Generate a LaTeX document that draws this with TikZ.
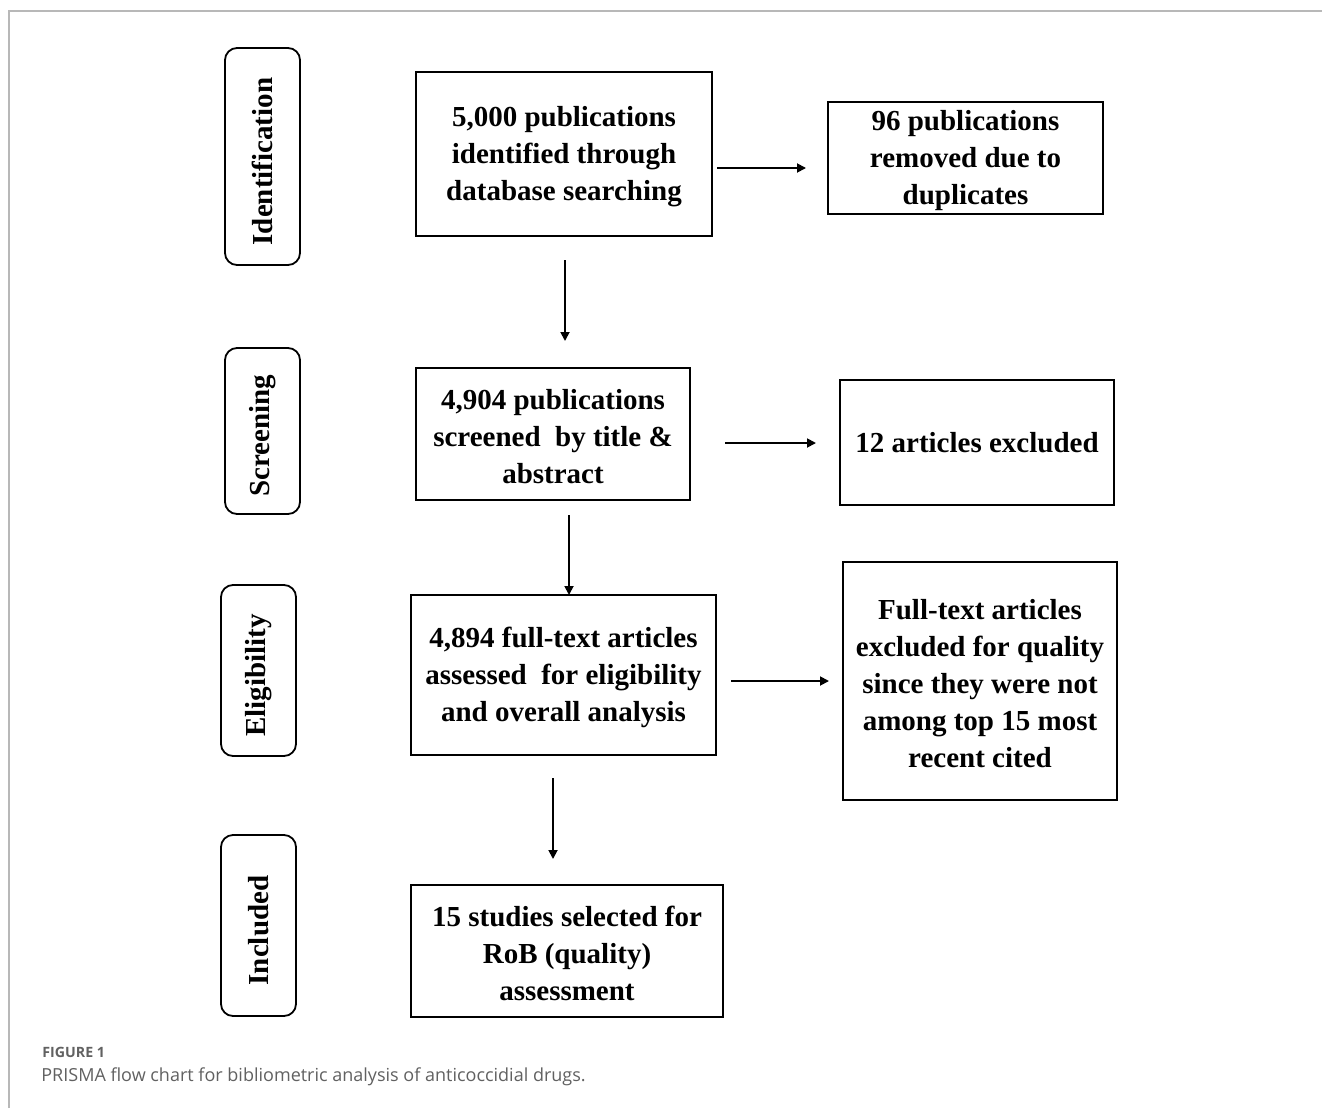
\documentclass[tikz,border=0pt]{standalone}
\usepackage{fontspec}
\setmainfont{Liberation Serif}
\newfontfamily\capfont{Open Sans}
\usetikzlibrary{arrows.meta}
\newcommand\topst{\rule{0pt}{13pt}}
\begin{document}
\begin{tikzpicture}[x=0.5pt,y=-0.5pt,
  boxtxt/.style={font=\fontsize{14.5}{18.5}\selectfont\bfseries, align=center},
  mainbox/.style={draw, line width=0.9pt, inner sep=0pt, boxtxt},
  stagebox/.style={draw, line width=0.9pt, rounded corners=6pt, inner sep=0pt},
  stagetxt/.style={boxtxt, rotate=90},
  flow/.style={line width=0.9pt, -{Triangle[length=4.5pt,width=4.5pt]}}]
\useasboundingbox (0,0) rectangle (1322,1108);
\fill[white] (0,0) rectangle (1322,1108);
% frame
\draw[line width=1pt, color=black!28] (9,1108) -- (9,11) -- (1322,11);

% stage boxes
\node[stagebox, minimum width=37.5pt, minimum height=108.5pt] (s1) at (262.5,156.5) {};
\node[stagetxt] (t1) at ([yshift=-2.5pt]s1.center) {Identification};
\node[stagebox, minimum width=37.5pt, minimum height=83pt] (s2) at (262.5,431) {};
\node[stagetxt] (t2) at ([yshift=-2.5pt]s2.center) {Screening};
\node[stagebox, minimum width=37.5pt, minimum height=85.5pt] (s3) at (258.5,670.5) {};
\node[stagetxt] (t3) at ([yshift=-2.5pt]s3.center) {Eligibility};
\node[stagebox, minimum width=37.5pt, minimum height=90.5pt] (s4) at (258.5,925.5) {};
\node[stagetxt] (t4) at ([yshift=-2.5pt]s4.center) {Included};

% main boxes
\node[mainbox, minimum width=148pt, minimum height=82pt] (b1) at (564,154)
  {\topst 5,000 publications\\identified through\\database searching};
\node[mainbox, minimum width=137.5pt, minimum height=56pt] (r1) at (965.5,158)
  {\topst 96 publications\\removed due to\\duplicates};
\node[mainbox, minimum width=137pt, minimum height=66pt] (b2) at (553,434)
  {\topst 4,904 publications\\screened\ \ by title \&\\abstract};
\node[mainbox, minimum width=137pt, minimum height=62.5pt] (r2) at (977,442.5)
  {12 articles excluded};
\node[mainbox, minimum width=152.5pt, minimum height=80pt] (b3) at (563.5,675)
  {\topst 4,894 full-text articles\\assessed\ \ for eligibility\\and overall analysis};
\node[mainbox, minimum width=137pt, minimum height=119pt] (r3) at (980,681)
  {\topst Full-text articles\\excluded for quality\\since they were not\\among top 15 most\\recent cited};
\node[mainbox, minimum width=156pt, minimum height=66pt] (b4) at (567,951)
  {\topst 15 studies selected for\\RoB (quality)\\assessment};

% arrow end points
\coordinate (a1s) at (717,168); \coordinate (a1e) at (806,168);
\coordinate (a2s) at (565,260); \coordinate (a2e) at (565,341);
\coordinate (a3s) at (725,443); \coordinate (a3e) at (816,443);
\coordinate (a4s) at (569,515); \coordinate (a4e) at (569,595);
\coordinate (a5s) at (731,681); \coordinate (a5e) at (829,681);
\coordinate (a6s) at (553,778); \coordinate (a6e) at (553,859);
\draw[flow] (a1s) -- (a1e);
\draw[flow] (a2s) -- (a2e);
\draw[flow] (a3s) -- (a3e);
\draw[flow] (a4s) -- (a4e);
\draw[flow] (a5s) -- (a5e);
\draw[flow] (a6s) -- (a6e);

% caption
\node[anchor=west, inner sep=0pt, text=black!62, font=\capfont\fontsize{7.1}{8}\selectfont\bfseries] (fig) at (42,1052) {FIGURE 1};
\node[anchor=west, inner sep=0pt, text=black!62, font=\capfont\fontsize{9}{10}\selectfont] (cap) at (41,1077) {PRISMA flow chart for bibliometric analysis of anticoccidial drugs.};
\end{tikzpicture}
\end{document}
